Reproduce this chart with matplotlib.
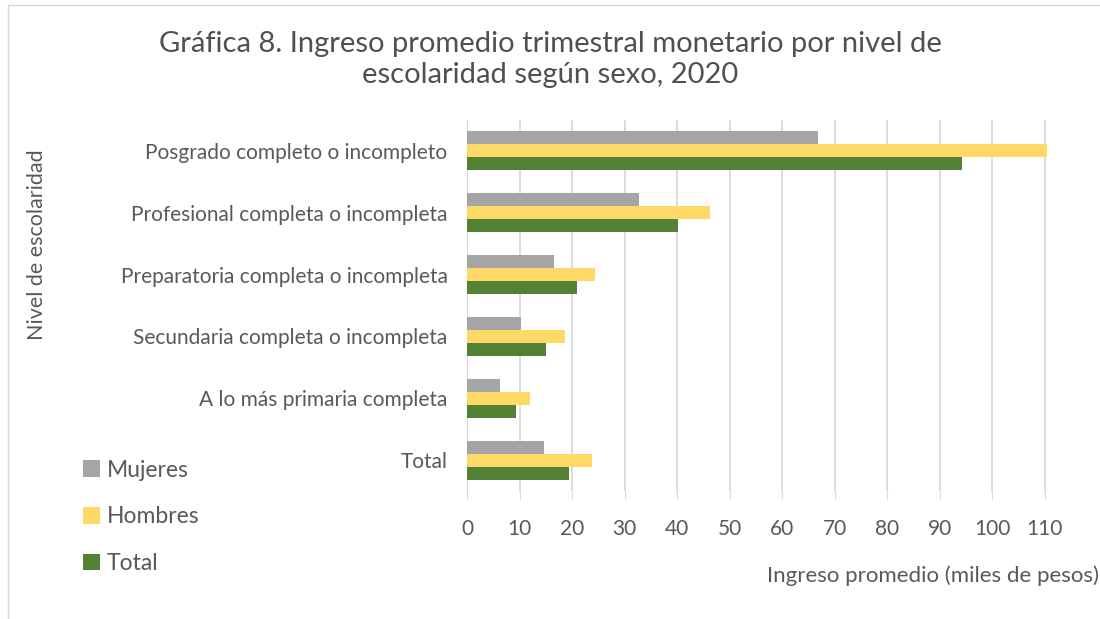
import numpy as np
import matplotlib.pyplot as plt
from matplotlib.patches import Rectangle

categorias = ["Total", "A lo más primaria completa", "Secundaria completa o incompleta",
              "Preparatoria completa o incompleta", "Profesional completa o incompleta",
              "Posgrado completo o incompleto"]
mujeres = [14.6, 6.3, 10.2, 16.5, 32.7, 66.9]
hombres = [23.7, 11.9, 18.6, 24.3, 46.3, 110.5]
total = [19.5, 9.3, 15.0, 20.9, 40.1, 94.3]
series = ["Mujeres", "Hombres", "Total"]
colores = ["#A5A5A5", "#FFD966", "#548235"]
ticks_x = list(range(0, 111, 10))

plt.rcParams['font.family'] = ['Lato', 'DejaVu Sans']
texto = "#595959"

fig = plt.figure(figsize=(11, 6.19), dpi=100)
ax = fig.add_axes([467/1100, 1 - 491/619, (1048 - 467)/1100, (491 - 120)/619])

y = np.arange(len(categorias))
h = 0.21
for i, (vals, nombre, c) in enumerate(zip([mujeres, hombres, total], series, colores)):
    ax.barh(y + (1 - i) * h, vals, height=h, color=c, label=nombre, zorder=3)

ax.set_xlim(0, 110.6)
ax.set_ylim(-0.5, len(categorias) - 0.5)
ax.set_xticks(ticks_x)
ax.set_yticks(y)
ax.set_yticklabels(categorias)
ax.grid(axis='x', color="#D9D9D9", linewidth=1.3, zorder=0)
for s in ["top", "right", "bottom"]:
    ax.spines[s].set_visible(False)
ax.spines["left"].set_color("#D9D9D9")
ax.tick_params(axis='y', length=0, pad=14, labelsize=15, labelcolor=texto)
ax.tick_params(axis='x', length=6, color="#D9D9D9", pad=14, labelsize=15, labelcolor=texto)

fig.text(0.5, 0.904, "Gráfica 8. Ingreso promedio trimestral monetario por nivel de\nescolaridad según sexo, 2020",
         ha='center', va='center', fontsize=21, color="#505050", linespacing=1.2)
fig.text(37/1100, 1 - 245/619, "Nivel de escolaridad", rotation=90, ha='center', va='center',
         fontsize=15.5, color=texto)
fig.text(1099/1100, 1 - 576/619, "Ingreso promedio (miles de pesos)", ha='right', va='center',
         fontsize=16, color=texto)

handles, labels = ax.get_legend_handles_labels()
fig.legend(handles, labels, loc='upper left', bbox_to_anchor=(62/1100, 1 - 439/619),
           frameon=False, fontsize=16.5, labelcolor=texto, handlelength=0.75, handleheight=0.75,
           handletextpad=0.3, labelspacing=1.12)

fig.patches.append(Rectangle((8/1100, -0.05), 1.2, 1 - 5/619 + 0.05, transform=fig.transFigure,
                             fill=False, edgecolor="#D9D9D9", linewidth=1))

fig.savefig("out.png", dpi=100)
